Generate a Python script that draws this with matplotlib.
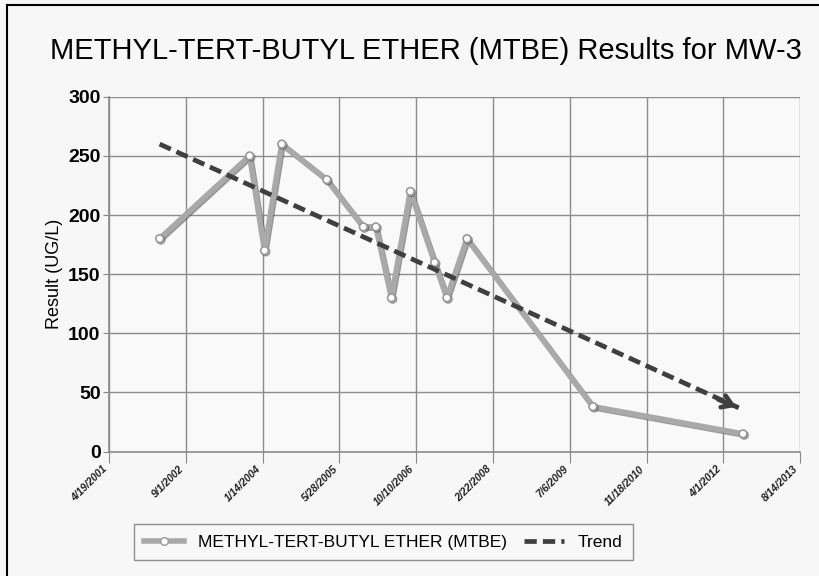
import matplotlib
matplotlib.use("Agg")
import matplotlib.pyplot as plt
import matplotlib.patheffects as pe
from matplotlib.lines import Line2D
import pandas as pd

plt.rcParams['font.family'] = ['Liberation Sans', 'DejaVu Sans']

# sample dates and MTBE results (ug/L)
sample_dates = ["2002-03-15", "2003-10-22", "2004-01-27", "2004-05-18", "2005-03-07",
                "2005-10-31", "2006-01-21", "2006-05-02", "2006-09-02", "2007-02-07",
                "2007-04-28", "2007-09-06", "2009-12-04", "2012-08-07"]
mtbe = [180, 250, 170, 260, 230, 190, 190, 130, 220, 160, 130, 180, 38, 15]

# trend line end points
trend_dates = ["2002-03-15", "2012-07-10"]
trend_values = [260, 37]

tick_dates = ["2001-04-19", "2002-09-01", "2004-01-14", "2005-05-28", "2006-10-10",
              "2008-02-22", "2009-07-06", "2010-11-18", "2012-04-01", "2013-08-14"]
tick_labels = ["4/19/2001", "9/1/2002", "1/14/2004", "5/28/2005", "10/10/2006",
               "2/22/2008", "7/6/2009", "11/18/2010", "4/1/2012", "8/14/2013"]

x = pd.to_datetime(sample_dates)
tx = pd.to_datetime(trend_dates)
ticks = pd.to_datetime(tick_dates)

fig = plt.figure(figsize=(8.19, 5.76), dpi=100, facecolor='#f7f7f7')
ax = fig.add_axes([0.133, 0.216, 0.844, 0.616])
ax.set_facecolor('#f9f9f9')

ax.plot(x, mtbe, color='#a9a9a9', lw=4, marker='o', ms=5.5, mfc='white', mec='#999999',
        mew=1.2, zorder=3,
        path_effects=[pe.SimpleLineShadow(offset=(0.9, -0.9), shadow_color='#555555', alpha=0.6),
                      pe.Normal()])

ax.plot(tx, trend_values, color='#3f3f3f', lw=3.4, ls=(0, (2.6, 1.3)), zorder=4)
ax.annotate('', xy=(tx[1], trend_values[1]), xytext=(tx[1] - pd.Timedelta(days=150), trend_values[1] + 8),
            arrowprops=dict(arrowstyle='->,head_length=0.7,head_width=0.45', color='#3f3f3f', lw=3.4),
            zorder=5)

ax.set_ylim(0, 300)
ax.set_yticks(range(0, 301, 50))
ax.set_xlim(ticks[0], ticks[-1])
ax.set_xticks(ticks)
ax.set_xticklabels(tick_labels, rotation=45, ha='right', va='top', fontsize=7.5, style='italic',
                   fontweight='bold', color='#222222')
ax.tick_params(axis='y', labelsize=14, length=4, color='#888888', pad=2)
ax.tick_params(axis='x', length=8, color='#888888', pad=1)
for lab in ax.get_yticklabels():
    lab.set_fontweight('bold')

ax.grid(True, color='#8c8c8c', lw=1)
ax.set_axisbelow(True)
for s in ['top', 'right']:
    ax.spines[s].set_visible(False)
for s in ['left', 'bottom']:
    ax.spines[s].set_color('#8c8c8c')
    ax.spines[s].set_linewidth(1.2)

ax.set_ylabel("Result (UG/L)", fontsize=13, labelpad=4)

fig.text(0.52, 0.912, "METHYL-TERT-BUTYL ETHER (MTBE) Results for MW-3", ha='center', va='center',
         fontsize=21)

handles = [Line2D([], [], color='#a9a9a9', lw=4, marker='o', ms=5.5, mfc='white', mec='#999999'),
           Line2D([], [], color='#3f3f3f', lw=3.4, ls=(0, (2.6, 1.3)))]
leg = fig.legend(handles, ["METHYL-TERT-BUTYL ETHER (MTBE)", "Trend"], loc='center',
                 bbox_to_anchor=(0.468, 0.059), ncol=2, fontsize=12.5, frameon=True, fancybox=False,
                 handlelength=2.3, columnspacing=1.0, borderpad=0.6)
leg.get_frame().set_edgecolor('#777777')
leg.get_frame().set_facecolor('#f9f9f9')

# scan frame
fig.add_artist(Line2D([0.009, 0.009], [0, 0.992], color='black', lw=1.5, transform=fig.transFigure))
fig.add_artist(Line2D([0.009, 1.0], [0.992, 0.992], color='black', lw=1.5, transform=fig.transFigure))

fig.savefig("out.png", dpi=100, facecolor=fig.get_facecolor())
